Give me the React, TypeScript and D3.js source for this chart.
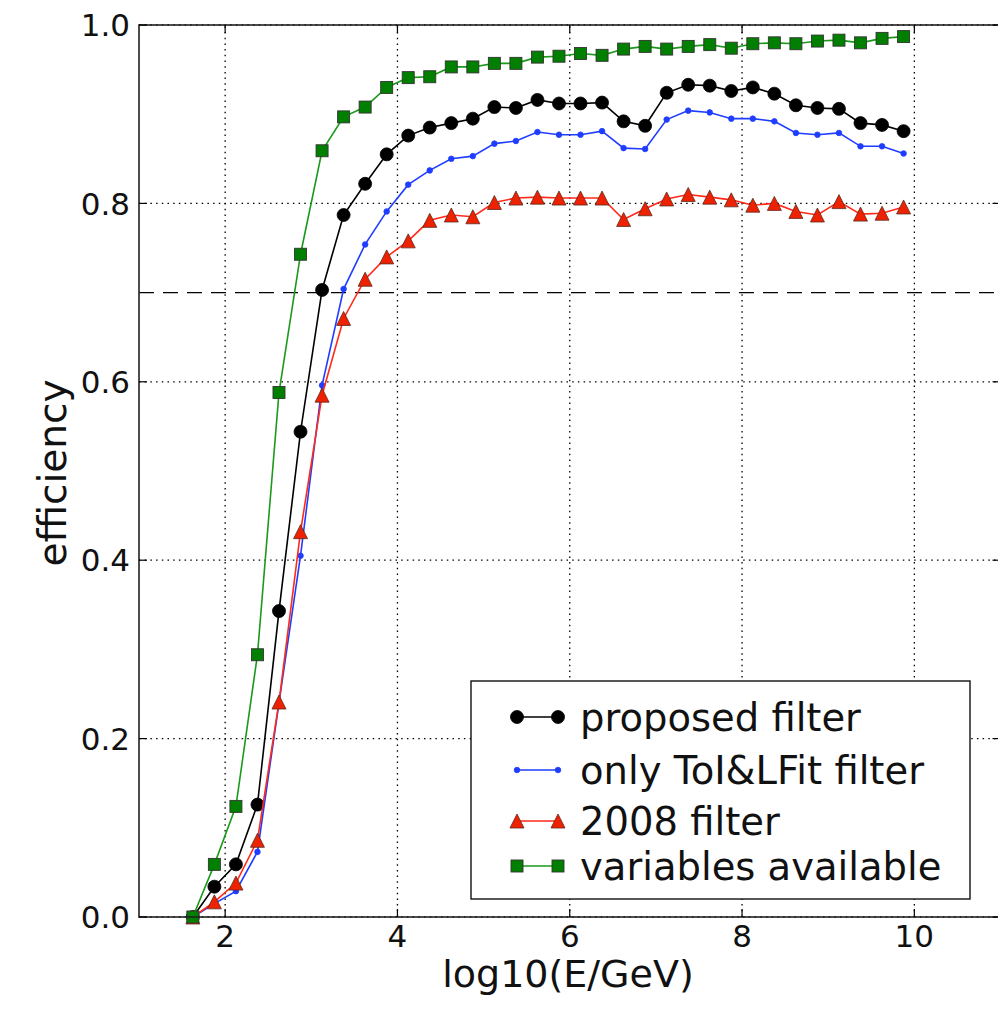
import React from "react";
import * as d3 from "d3";

// bin centres, log10(E/GeV)
const energies = [
  1.625, 1.875, 2.125, 2.375, 2.625, 2.875, 3.125, 3.375, 3.625, 3.875, 4.125,
  4.375, 4.625, 4.875, 5.125, 5.375, 5.625, 5.875, 6.125, 6.375, 6.625, 6.875,
  7.125, 7.375, 7.625, 7.875, 8.125, 8.375, 8.625, 8.875, 9.125, 9.375, 9.625,
  9.875,
];

const proposed = [
  0, 0.034, 0.059, 0.126, 0.343, 0.544, 0.703, 0.787, 0.822, 0.855, 0.876,
  0.885, 0.89, 0.895, 0.908, 0.907, 0.916, 0.912, 0.912, 0.913, 0.892, 0.887,
  0.924, 0.933, 0.932, 0.926, 0.93, 0.923, 0.91, 0.907, 0.906, 0.89, 0.888,
  0.881,
];

const tolLfit = [
  0, 0.015, 0.029, 0.073, 0.24, 0.405, 0.596, 0.704, 0.754, 0.791, 0.821,
  0.837, 0.85, 0.853, 0.867, 0.87, 0.88, 0.877, 0.877, 0.881, 0.862, 0.861,
  0.894, 0.904, 0.902, 0.895, 0.895, 0.892, 0.879, 0.877, 0.879, 0.864, 0.864,
  0.856,
];

const filter2008 = [
  0, 0.017, 0.038, 0.086, 0.241, 0.432, 0.585, 0.671, 0.715, 0.74, 0.758,
  0.781, 0.787, 0.785, 0.801, 0.806, 0.807, 0.806, 0.806, 0.806, 0.782, 0.794,
  0.805, 0.81, 0.807, 0.804, 0.798, 0.8, 0.791, 0.787, 0.802, 0.788, 0.789,
  0.796,
];

const varsAvailable = [
  0, 0.059, 0.124, 0.294, 0.588, 0.743, 0.859, 0.897, 0.908, 0.93, 0.941,
  0.942, 0.953, 0.953, 0.957, 0.957, 0.964, 0.965, 0.968, 0.966, 0.973, 0.976,
  0.973, 0.976, 0.978, 0.974, 0.979, 0.98, 0.979, 0.982, 0.983, 0.98, 0.985,
  0.987,
];

const xTicks = [2, 4, 6, 8, 10];
const yTicks = [0, 0.2, 0.4, 0.6, 0.8, 1.0];
const threshold = 0.7;

const seriesNames = [
  "proposed filter",
  "only ToI&LFit filter",
  "2008 filter",
  "variables available",
];

const W = 998;
const H = 1010;
const FONT = "'DejaVu Sans', 'Bitstream Vera Sans', sans-serif";

const styles = [
  { line: "#000000", fill: "#000000", edge: "#000000", marker: "circle", size: 6.5 },
  { line: "#1f3dff", fill: "#1f3dff", edge: "#1f3dff", marker: "dot", size: 2.8 },
  { line: "#ff2a1a", fill: "#ee2200", edge: "#5a2a20", marker: "triangle", size: 7 },
  { line: "#1a9a1a", fill: "#007f00", edge: "#333333", marker: "square", size: 6 },
];

const Marker = ({ kind, x, y, s }) => {
  if (kind === "circle" || kind === "dot") {
    return <circle cx={x} cy={y} r={s.size} fill={s.fill} stroke={s.edge} strokeWidth={0.8} />;
  }
  if (kind === "square") {
    const a = s.size;
    return <rect x={x - a} y={y - a} width={2 * a} height={2 * a} fill={s.fill} stroke={s.edge} strokeWidth={0.9} />;
  }
  const a = s.size;
  return (
    <path
      d={`M${x},${y - a}L${x - a},${y + a}L${x + a},${y + a}Z`}
      fill={s.fill}
      stroke={s.edge}
      strokeWidth={0.8}
    />
  );
};

export default function App() {
  const x = d3.scaleLinear().domain([1, 11]).range([139, 1000.5]);
  const y = d3.scaleLinear().domain([0, 1]).range([917, 25]);

  const allSeries = [proposed, tolLfit, filter2008, varsAvailable];
  const line = d3
    .line<number>()
    .x((_, i) => x(energies[i]))
    .y((d) => y(d));

  const [x0, x1] = x.range();
  const [y0, y1] = y.range();

  // legend layout
  const legend = { left: 471, top: 681, right: 970, bottom: 899 };
  const legendRows = [717, 770, 821, 866];

  return (
    <svg
      width={W}
      height={H}
      style={{ position: "absolute", left: 0, top: 0, background: "#fff" }}
      fontFamily={FONT}
    >
      <rect width={W} height={H} fill="#fff" />

      {/* grid */}
      {xTicks.map((t) => (
        <line key={"gx" + t} x1={x(t)} x2={x(t)} y1={y0} y2={y1} stroke="#000" strokeWidth={1.3} strokeDasharray="1.5,4.2" />
      ))}
      {yTicks.map((t) => (
        <line key={"gy" + t} x1={x0} x2={x1} y1={y(t)} y2={y(t)} stroke="#000" strokeWidth={1.3} strokeDasharray="1.5,4.2" />
      ))}

      {/* 70% reference line */}
      <line x1={x0} x2={x1} y1={y(threshold)} y2={y(threshold)} stroke="#000" strokeWidth={1.4} strokeDasharray="15,9" />

      {/* series */}
      {allSeries.map((data, si) => {
        const s = styles[si];
        return (
          <g key={"s" + si}>
            <path d={line(data)} fill="none" stroke={s.line} strokeWidth={1.6} />
            {data.map((v, i) => (
              <Marker key={i} kind={s.marker} x={x(energies[i])} y={y(v)} s={s} />
            ))}
          </g>
        );
      })}

      {/* spines */}
      <rect x={x0} y={y1} width={x1 - x0} height={y0 - y1} fill="none" stroke="#222" strokeWidth={1.6} />

      {/* ticks (inward) */}
      {xTicks.map((t) => (
        <g key={"tx" + t}>
          <line x1={x(t)} x2={x(t)} y1={y0} y2={y0 - 8} stroke="#000" strokeWidth={1.2} />
          <line x1={x(t)} x2={x(t)} y1={y1} y2={y1 + 8} stroke="#000" strokeWidth={1.2} />
          <text x={x(t)} y={947} fontSize={31} textAnchor="middle" fill="#111">
            {t}
          </text>
        </g>
      ))}
      {yTicks.map((t) => (
        <g key={"ty" + t}>
          <line x1={x0} x2={x0 + 8} y1={y(t)} y2={y(t)} stroke="#000" strokeWidth={1.2} />
          <line x1={x1} x2={x1 - 8} y1={y(t)} y2={y(t)} stroke="#000" strokeWidth={1.2} />
          <text x={130} y={y(t)} dy="0.36em" fontSize={31} textAnchor="end" fill="#111">
            {t.toFixed(1)}
          </text>
        </g>
      ))}

      {/* axis labels */}
      <text x={568} y={987} fontSize={38} textAnchor="middle" fill="#111">
        log10(E/GeV)
      </text>
      <text
        transform={`translate(66,${473}) rotate(-90)`}
        fontSize={39}
        textAnchor="middle"
        fill="#111"
      >
        efficiency
      </text>

      {/* legend */}
      <rect
        x={legend.left}
        y={legend.top}
        width={legend.right - legend.left}
        height={legend.bottom - legend.top}
        fill="#fff"
        stroke="#111"
        strokeWidth={1.4}
      />
      {seriesNames.map((name, i) => {
        const s = styles[i];
        const ry = legendRows[i];
        return (
          <g key={"lg" + i}>
            <line x1={517} x2={558} y1={ry} y2={ry} stroke={s.line} strokeWidth={1.6} />
            <Marker kind={s.marker} x={517} y={ry} s={s} />
            <Marker kind={s.marker} x={558} y={ry} s={s} />
            <text x={580} y={ry} dy="0.36em" fontSize={38.5} fill="#111">
              {name}
            </text>
          </g>
        );
      })}
    </svg>
  );
}
